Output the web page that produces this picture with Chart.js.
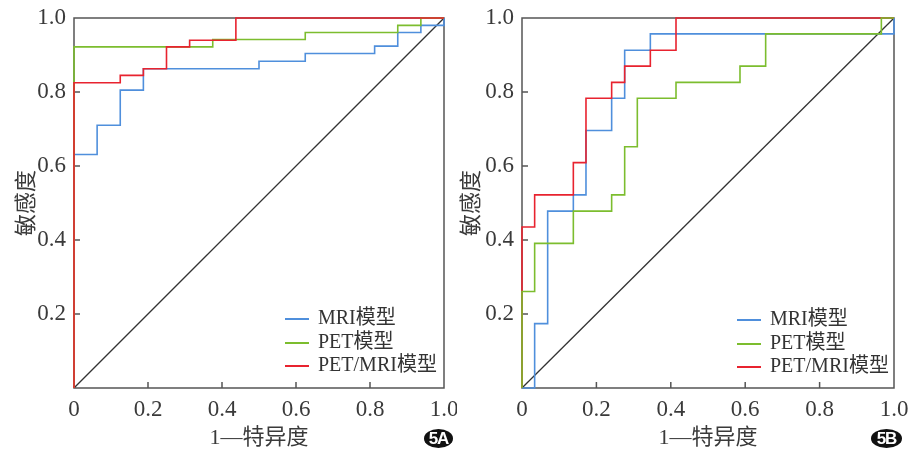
<!DOCTYPE html>
<html>
<head>
<meta charset="utf-8">
<script src="https://cdn.jsdelivr.net/npm/chart.js@4.4.0/dist/chart.umd.min.js"></script>
<style>
  html, body { margin:0; padding:0; background:#fff; }
  #wrap { position:relative; width:915px; height:450px; overflow:hidden; }
  canvas { position:absolute; top:0; }
  .legend { position:absolute; font:20px "Liberation Serif","Noto Sans CJK SC",serif; color:#333; }
  .legend div { position:absolute; left:0; white-space:nowrap; height:22px; line-height:22px; }
  .legend i { display:inline-block; width:24px; height:2px; vertical-align:middle; margin-right:9px; }
  .badge { position:absolute; height:19px; border-radius:50%; background:#111; color:#fff;
           font:bold 17px "Liberation Sans",sans-serif; text-align:center; line-height:19px; letter-spacing:-1px; }
</style>
</head>
<body>
<div id="wrap">
  <canvas id="cA" width="457" height="450" style="left:0"></canvas>
  <canvas id="cB" width="467" height="450" style="left:448px"></canvas>
</div>
<script>
// ROC step curves (x = 1-特异度, y = 敏感度)
const seriesLabels = ['MRI模型', 'PET模型', 'PET/MRI模型'];
const seriesColors = ['#4f8fdc', '#7cbd2e', '#e8232f'];

// Panel 5A
const aMriX    = [0, 0,     0.0625, 0.125, 0.1875, 0.5,   0.625, 0.8125, 0.875, 0.9375, 1];
const aMriY    = [0, 0.631, 0.710,  0.805, 0.863,  0.883, 0.904, 0.924,  0.961, 0.980,  1];
const aPetX    = [0, 0,     0.375, 0.625, 0.875, 0.9375, 1];
const aPetY    = [0, 0.922, 0.942, 0.961, 0.980, 1,      1];
const aFusedX  = [0, 0,     0.125, 0.1875, 0.25,  0.3125, 0.4375, 1];
const aFusedY  = [0, 0.825, 0.845, 0.863,  0.922, 0.940,  1,      1];

// Panel 5B
const bMriX    = [0, 0.034, 0.069, 0.138, 0.172, 0.241, 0.276, 0.345, 1];
const bMriY    = [0, 0.174, 0.478, 0.522, 0.696, 0.783, 0.913, 0.957, 1];
const bPetX    = [0, 0,     0.034, 0.138, 0.241, 0.276, 0.310, 0.414, 0.586, 0.655, 0.966, 1];
const bPetY    = [0, 0.261, 0.391, 0.478, 0.522, 0.652, 0.783, 0.826, 0.870, 0.957, 1,     1];
const bFusedX  = [0, 0,     0.034, 0.138, 0.172, 0.241, 0.276, 0.345, 0.414, 1];
const bFusedY  = [0, 0.435, 0.522, 0.609, 0.783, 0.826, 0.870, 0.913, 1,     1];

const refX = [0, 1];
const refY = [0, 1];
const innerTicks = [0.2, 0.4, 0.6, 0.8];

const serif = '"Liberation Serif","Noto Sans CJK SC",serif';
const textColor = '#3a3a3a';

function pts(xs, ys){ return xs.map((x, i) => ({ x, y: ys[i] })); }

// frame box + inward tick marks, under the curves
const frameTicks = {
  id: 'frameTicks',
  beforeDatasetsDraw(chart){
    const { ctx, chartArea: a, scales: { x, y } } = chart;
    ctx.save();
    ctx.strokeStyle = '#555';
    ctx.lineWidth = 1.5;
    ctx.strokeRect(a.left, a.top, a.right - a.left, a.bottom - a.top);
    ctx.beginPath();
    innerTicks.forEach(v => {
      const px = x.getPixelForValue(v);
      ctx.moveTo(px, a.bottom); ctx.lineTo(px, a.bottom - 6);
      const py = y.getPixelForValue(v);
      ctx.moveTo(a.left, py); ctx.lineTo(a.left + 6, py);
    });
    ctx.stroke();
    ctx.restore();
  }
};

function makeChart(id, curves, orders, padRight, yTitlePad){
  const datasets = curves.map((c, i) => ({
    label: seriesLabels[i],
    data: pts(c[0], c[1]),
    borderColor: seriesColors[i],
    borderWidth: 1.6,
    stepped: 'before',   // horizontal run, then the jump
    pointRadius: 0,
    fill: false,
    order: orders[i],
    clip: 3
  }));
  datasets.push({
    label: 'ref',
    data: pts(refX, refY),
    borderColor: '#333',
    borderWidth: 1.3,
    pointRadius: 0,
    fill: false,
    order: 9
  });
  return new Chart(document.getElementById(id), {
    type: 'line',
    data: { datasets },
    options: {
      responsive: false,
      devicePixelRatio: 1,
      animation: false,
      layout: { padding: { left: 0, right: padRight, top: 18, bottom: 0 } },
      plugins: { legend: { display: false }, tooltip: { enabled: false } },
      scales: {
        x: {
          type: 'linear', min: 0, max: 1,
          grid: { display: false, drawTicks: false },
          border: { display: false },
          ticks: {
            stepSize: 0.2, padding: 8, color: textColor,
            font: { family: serif, size: 23 },
            callback: v => (v === 0 ? '0' : v.toFixed(1))
          },
          title: {
            display: true, text: '1—特异度', color: textColor,
            font: { family: serif, size: 22, lineHeight: 1 },
            padding: { top: 0, bottom: 1 }
          },
          afterFit(s){ s.height = 62; s.paddingLeft = 0; s.paddingRight = 0; }
        },
        y: {
          type: 'linear', min: 0, max: 1,
          grid: { display: false, drawTicks: false },
          border: { display: false },
          ticks: {
            stepSize: 0.2, padding: 8, color: textColor,
            font: { family: serif, size: 23 },
            callback: v => (v === 0 ? '' : v.toFixed(1))
          },
          title: {
            display: true, text: '敏感度', color: textColor,
            font: { family: serif, size: 22, lineHeight: 1 },
            padding: { top: yTitlePad, bottom: 0 }
          },
          afterFit(s){ s.width = 74; s.paddingTop = 0; s.paddingBottom = 0; }
        }
      }
    },
    plugins: [frameTicks]
  });
}

makeChart('cA', [[aMriX, aMriY], [aPetX, aPetY], [aFusedX, aFusedY]], [3, 2, 1], 13, 16);
makeChart('cB', [[bMriX, bMriY], [bPetX, bPetY], [bFusedX, bFusedY]], [3, 1, 2], 21, 13);

// legends + panel badges as html text
const wrap = document.getElementById('wrap');
function addLegend(left, top){
  const box = document.createElement('div');
  box.className = 'legend';
  box.style.left = left + 'px';
  box.style.top = top + 'px';
  seriesLabels.forEach((lab, i) => {
    const row = document.createElement('div');
    row.style.top = (i * 23.5) + 'px';
    row.innerHTML = '<i style="background:' + seriesColors[i] + '"></i>' + lab;
    box.appendChild(row);
  });
  wrap.appendChild(box);
}
addLegend(285, 306);
addLegend(737, 307);

function addBadge(text, left, top, w){
  const b = document.createElement('div');
  b.className = 'badge';
  b.textContent = text;
  b.style.left = left + 'px';
  b.style.top = top + 'px';
  b.style.width = w + 'px';
  wrap.appendChild(b);
}
addBadge('5A', 424, 429, 29);
addBadge('5B', 871, 429, 31);
</script>
</body>
</html>
